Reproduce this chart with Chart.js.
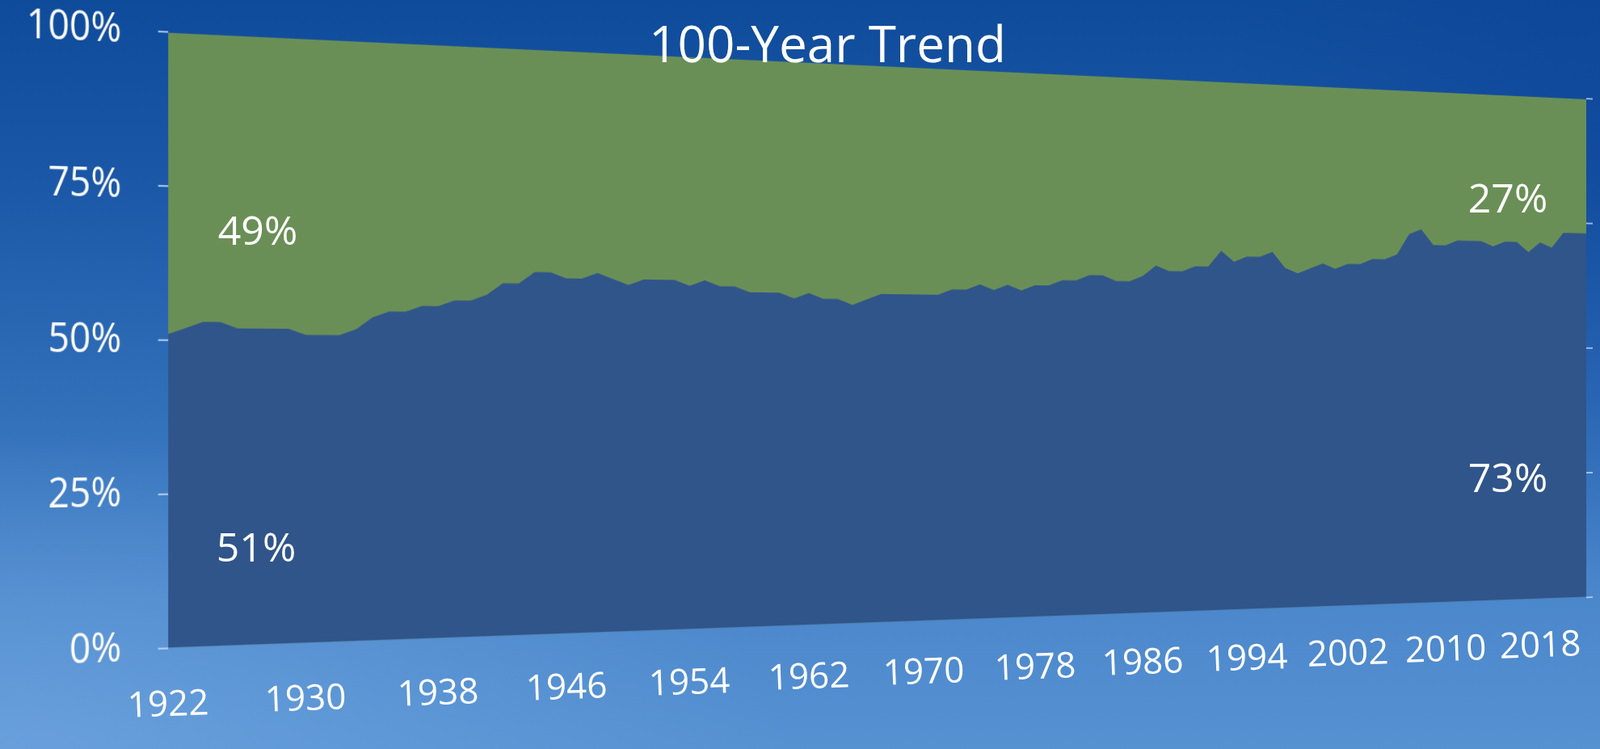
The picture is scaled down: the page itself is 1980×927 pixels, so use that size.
<!DOCTYPE html>
<html>
<head>
<meta charset="utf-8">
<title>100-Year Trend</title>
<script src="https://cdn.jsdelivr.net/npm/chart.js@4.4.1/dist/chart.umd.min.js"></script>
<style>
    html, body {
        margin: 0;
        padding: 0;
        width: 1980px;
        height: 927px;
        overflow: hidden;
    }
    #stage {
        position: relative;
        width: 1980px;
        height: 927px;
        overflow: hidden;
        font-family: "Open Sans", "Noto Sans", sans-serif;
        background:
            radial-gradient(ellipse 70% 60% at 0% 100%, rgba(120, 172, 228, 0.55), rgba(120, 172, 228, 0) 70%),
            radial-gradient(ellipse 30% 70% at 100% 20%, rgba(8, 62, 150, 0.45), rgba(8, 62, 150, 0) 80%),
            linear-gradient(to bottom, #0f4b9b 0%, #1b58a7 25%, #3270ba 55%, #4b87cb 80%, #5691d2 100%);
    }
    #chart {
        position: absolute;
        left: 0;
        top: 0;
        transform-origin: 0 0;
    }
    .title {
        position: absolute;
        left: 0;
        width: 2048px;
        top: 14px;
        text-align: center;
        color: #ffffff;
        font-size: 62px;
        font-weight: 500;
        line-height: 78px;
    }
    .note, .xlabel {
        position: absolute;
        color: #ffffff;
        white-space: nowrap;
    }
    .note {
        font-size: 50px;
        line-height: 64px;
        transform: translate(-50%, -50%);
    }
    .xlabel {
        font-size: 44px;
        line-height: 56px;
        transform: translate(-50%, -50%) rotate(-2deg);
    }
</style>
</head>
<body>
<div id="stage">
    <canvas id="chart" width="2360" height="796"></canvas>
    <div class="title">100-Year Trend</div>
    <div class="note" id="noteGreenStart" style="left:319px; top:284px;"></div>
    <div class="note" id="noteBlueStart" style="left:317px; top:676px;"></div>
    <div class="note" id="noteGreenEnd" style="left:1866px; top:244px;"></div>
    <div class="note" id="noteBlueEnd" style="left:1866px; top:590px;"></div>
</div>

<script>
// -------------------- DATA --------------------
const years = [
    1922, 1923, 1924, 1925, 1926, 1927, 1928, 1929, 1930, 1931,
    1932, 1933, 1934, 1935, 1936, 1937, 1938, 1939, 1940, 1941,
    1942, 1943, 1944, 1945, 1946, 1947, 1948, 1949, 1950, 1951,
    1952, 1953, 1954, 1955, 1956, 1957, 1958, 1959, 1960, 1961,
    1962, 1963, 1964, 1965, 1966, 1967, 1968, 1969, 1970, 1971,
    1972, 1973, 1974, 1975, 1976, 1977, 1978, 1979, 1980, 1981,
    1982, 1983, 1984, 1985, 1986, 1987, 1988, 1989, 1990, 1991,
    1992, 1993, 1994, 1995, 1996, 1997, 1998, 1999, 2000, 2001,
    2002, 2003, 2004, 2005, 2006, 2007, 2008, 2009, 2010, 2011,
    2012, 2013, 2014, 2015, 2016, 2017, 2018, 2019, 2020, 2021,
    2022
];

// lower (blue) share, percent
const blueShare = [
    51, 52, 53, 53, 52, 52, 52, 52, 51, 51,
    51, 52, 54, 55, 55, 56, 56, 57, 57, 58,
    60, 60, 62, 62, 61, 61, 62, 61, 60, 61,
    61, 61, 60, 61, 60, 60, 59, 59, 59, 58,
    59, 58, 58, 57, 58, 59, 59, 59, 59, 59,
    60, 60, 61, 60, 61, 60, 61, 61, 62, 62,
    63, 63, 62, 62, 63, 65, 64, 64, 65, 65,
    68, 66, 67, 67, 68, 65, 64, 65, 66, 65,
    66, 66, 67, 67, 68, 72, 73, 70, 70, 71,
    71, 71, 70, 71, 71, 69, 71, 70, 73, 73,
    73
];

// upper (green) share, percent
const greenShare = [
    49, 48, 47, 47, 48, 48, 48, 48, 49, 49,
    49, 48, 46, 45, 45, 44, 44, 43, 43, 42,
    40, 40, 38, 38, 39, 39, 38, 39, 40, 39,
    39, 39, 40, 39, 40, 40, 41, 41, 41, 42,
    41, 42, 42, 43, 42, 41, 41, 41, 41, 41,
    40, 40, 39, 40, 39, 40, 39, 39, 38, 38,
    37, 37, 38, 38, 37, 35, 36, 36, 35, 35,
    32, 34, 33, 33, 32, 35, 36, 35, 34, 35,
    34, 34, 33, 33, 32, 28, 27, 30, 30, 29,
    29, 29, 30, 29, 29, 31, 29, 30, 27, 27,
    27
];

const xTickYears = [1922, 1930, 1938, 1946, 1954, 1962, 1970, 1978, 1986, 1994, 2002, 2010, 2018];
const yTickValues = [0, 25, 50, 75, 100];
const yTickLabels = ["0%", "25%", "50%", "75%", "100%"];

// -------------------- STYLE --------------------
const blueColor = "#30558a";
const greenColor = "#6a8f56";
const tickMarkColor = "rgba(200, 220, 245, 0.75)";
const fontFamily = "'Open Sans', 'Noto Sans', sans-serif";

// where the plot area's corners land on the page (tilted view)
const plotCorners = [
    [208, 40],     // top left
    [1963, 122.5], // top right
    [1963, 739],   // bottom right
    [208, 802]     // bottom left
];
const xLabelDrop = 58; // year labels sit this far under the plot (flat px)

// -------------------- PERSPECTIVE --------------------
function squareToQuad(q) {
    const [x0, y0] = q[0], [x1, y1] = q[1], [x2, y2] = q[2], [x3, y3] = q[3];
    const dx1 = x1 - x2, dx2 = x3 - x2, dx3 = x0 - x1 + x2 - x3;
    const dy1 = y1 - y2, dy2 = y3 - y2, dy3 = y0 - y1 + y2 - y3;
    const den = dx1 * dy2 - dx2 * dy1;
    const g = (dx3 * dy2 - dx2 * dy3) / den;
    const h = (dx1 * dy3 - dx3 * dy1) / den;
    return {
        a: x1 - x0 + g * x1, b: x3 - x0 + h * x3, c: x0,
        d: y1 - y0 + g * y1, e: y3 - y0 + h * y3, f: y0,
        g: g, h: h
    };
}

let tilt = null;

function tiltCanvas(chart) {
    const area = chart.chartArea;
    const W = area.right - area.left;
    const H = area.bottom - area.top;
    const L = area.left, T = area.top;
    const s = squareToQuad(plotCorners);

    tilt = [
        [s.a / W, s.b / H, s.c - s.a * L / W - s.b * T / H],
        [s.d / W, s.e / H, s.f - s.d * L / W - s.e * T / H],
        [s.g / W, s.h / H, 1 - s.g * L / W - s.h * T / H]
    ];

    chart.canvas.style.transform = "matrix3d(" + [
        tilt[0][0], tilt[1][0], 0, tilt[2][0],
        tilt[0][1], tilt[1][1], 0, tilt[2][1],
        0, 0, 1, 0,
        tilt[0][2], tilt[1][2], 0, tilt[2][2]
    ].join(",") + ")";
}

function project(px, py) {
    const w = tilt[2][0] * px + tilt[2][1] * py + tilt[2][2];
    return [
        (tilt[0][0] * px + tilt[0][1] * py + tilt[0][2]) / w,
        (tilt[1][0] * px + tilt[1][1] * py + tilt[1][2]) / w
    ];
}

// -------------------- BUILD CHART --------------------
const ctx = document.getElementById("chart");

const chart = new Chart(ctx, {
    type: "line",
    data: {
        labels: years,
        datasets: [
            {
                label: "Blue share",
                data: blueShare,
                backgroundColor: blueColor,
                borderWidth: 0,
                pointRadius: 0,
                fill: "origin",
                order: 1
            },
            {
                label: "Green share",
                data: greenShare,
                backgroundColor: greenColor,
                borderWidth: 0,
                pointRadius: 0,
                fill: "origin",
                order: 2
            }
        ]
    },
    options: {
        responsive: false,
        animation: false,
        devicePixelRatio: 1,
        layout: {
            padding: { left: 10, right: 10, top: 24, bottom: 10 }
        },
        plugins: {
            legend: { display: false },
            tooltip: { enabled: false },
            title: { display: false }
        },
        elements: {
            line: { tension: 0 }
        },
        scales: {
            x: {
                grid: { display: false, drawTicks: false },
                border: { display: false },
                ticks: { display: false, autoSkip: false }
            },
            y: {
                stacked: true,
                min: 0,
                max: 100,
                afterBuildTicks: axis => {
                    axis.ticks = yTickValues.map(v => ({ value: v }));
                },
                grid: {
                    drawOnChartArea: false,
                    drawTicks: true,
                    tickLength: 12,
                    lineWidth: 2,
                    color: tickMarkColor
                },
                border: { display: false },
                ticks: {
                    padding: 44,
                    color: "#ffffff",
                    font: { family: fontFamily, size: 44 },
                    callback: value => yTickLabels[yTickValues.indexOf(value)]
                }
            },
            yRight: {
                position: "right",
                min: 0,
                max: 100,
                afterBuildTicks: axis => {
                    axis.ticks = yTickValues.map(v => ({ value: v }));
                },
                grid: {
                    drawOnChartArea: false,
                    drawTicks: true,
                    tickLength: 12,
                    lineWidth: 2,
                    color: tickMarkColor
                },
                border: { display: false },
                ticks: { display: false }
            }
        }
    }
});

tiltCanvas(chart);

// -------------------- YEAR LABELS --------------------
// placed at the x scale's tick positions, carried through the tilt
const stage = document.getElementById("stage");
xTickYears.forEach(year => {
    const index = years.indexOf(year);
    const px = chart.scales.x.getPixelForValue(index);
    const [x, y] = project(px, chart.chartArea.bottom + xLabelDrop);
    const el = document.createElement("div");
    el.className = "xlabel";
    el.textContent = String(year);
    el.style.left = x + "px";
    el.style.top = y + "px";
    stage.appendChild(el);
});

// -------------------- SHARE NOTES --------------------
const last = years.length - 1;
document.getElementById("noteGreenStart").textContent = greenShare[0] + "%";
document.getElementById("noteBlueStart").textContent = blueShare[0] + "%";
document.getElementById("noteGreenEnd").textContent = greenShare[last] + "%";
document.getElementById("noteBlueEnd").textContent = blueShare[last] + "%";
</script>
</body>
</html>
